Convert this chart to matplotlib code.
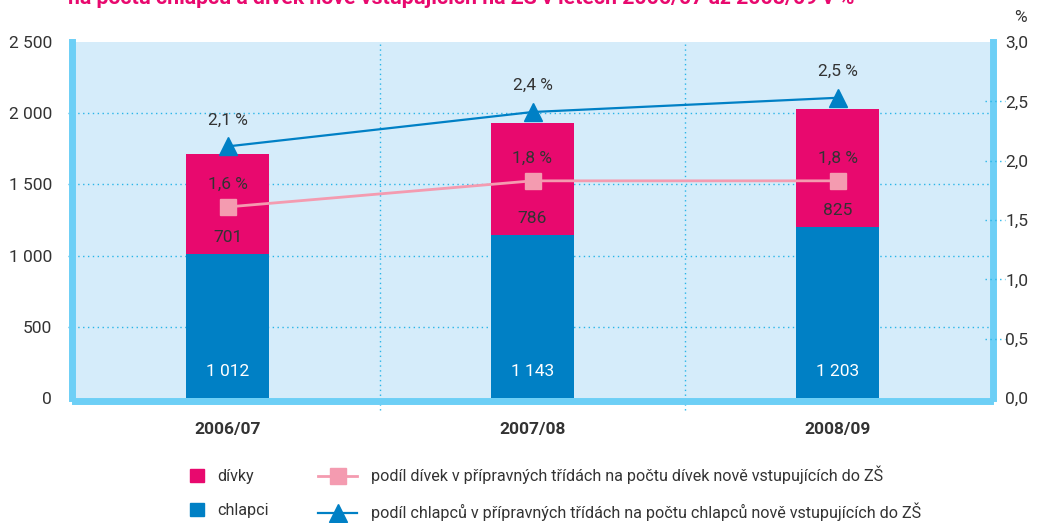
import matplotlib
matplotlib.use("Agg")
import matplotlib.pyplot as plt
from matplotlib.patches import Patch
from matplotlib.lines import Line2D

plt.rcParams['font.family'] = ['Roboto', 'DejaVu Sans']

# data
years = ['2006/07', '2007/08', '2008/09']
chlapci = [1012, 1143, 1203]
divky = [701, 786, 825]
podil_divek = [1.61, 1.83, 1.83]
podil_chlapcu = [2.12, 2.41, 2.53]
podil_divek_txt = ['1,6 %', '1,8 %', '1,8 %']
podil_chlapcu_txt = ['2,1 %', '2,4 %', '2,5 %']
left_ticks = [0, 500, 1000, 1500, 2000, 2500]
left_labels = ['0', '500', '1 000', '1 500', '2 000', '2 500']
right_ticks = [0, 0.5, 1.0, 1.5, 2.0, 2.5, 3.0]
right_labels = ['0,0', '0,5', '1,0', '1,5', '2,0', '2,5', '3,0']

pink = '#e8096e'
blue = '#0080c5'
light_pink = '#f49bb0'
border = '#6dcff6'
grid_c = '#29b5e8'
txt = '#333333'
fs = 12.5

fig = plt.figure(figsize=(10.38, 5.23), dpi=100)
ax = fig.add_axes([75 / 1038, 125 / 523, 915 / 1038, 356 / 523])
ax.set_facecolor('#d5ecfa')

x = list(range(len(years)))
ax.bar(x, chlapci, width=0.275, color=blue, zorder=2)
ax.bar(x, divky, width=0.275, bottom=chlapci, color=pink, zorder=2)

ax.set_xlim(-0.5, 2.5)
ax.set_ylim(0, 2500)

# dotted grid, poking out of the frame like little ticks
for y in left_ticks[1:-1]:
    ax.axhline(y, xmin=-0.008, xmax=1, color=grid_c, lw=1, ls=(0, (1, 2.5)), clip_on=False, zorder=1)
for xv in [0.5, 1.5]:
    ax.axvline(xv, ymin=-0.035, ymax=1, color=grid_c, lw=1, ls=(0, (1, 2.5)), clip_on=False, zorder=1)

for side in ['left', 'right', 'bottom']:
    ax.spines[side].set_color(border)
    ax.spines[side].set_linewidth(5)
    ax.spines[side].set_position(('outward', 2.5))
ax.spines['top'].set_visible(False)

ax.set_yticks(left_ticks)
ax.set_yticklabels(left_labels)
ax.set_xticks(x)
ax.set_xticklabels(years, fontweight='bold')
ax.tick_params(axis='y', length=0, pad=14, labelsize=fs, labelcolor=txt)
ax.tick_params(axis='x', length=0, pad=15, labelsize=fs, labelcolor=txt)

for i in x:
    ax.annotate(f'{chlapci[i]:,}'.replace(',', ' '), (i, 0), xytext=(0, 19), textcoords='offset points',
                ha='center', va='center', color='white', fontsize=fs)
    ax.annotate(str(divky[i]), (i, chlapci[i]), xytext=(0, 12), textcoords='offset points',
                ha='center', va='center', color=txt, fontsize=fs)

ax2 = ax.twinx()
ax2.set_ylim(0, 3.0)
for s in ax2.spines.values():
    s.set_visible(False)
ax2.set_yticks(right_ticks)
ax2.set_yticklabels(right_labels)
ax2.tick_params(axis='y', length=0, pad=11, labelsize=fs, labelcolor=txt)
for v in right_ticks[1:-1]:
    ax2.axhline(v, xmin=0.995, xmax=1.016, color=grid_c, lw=1, ls=(0, (1, 2.5)), clip_on=False)

ax2.plot(x, podil_divek, color=light_pink, lw=2, marker='s', ms=12, zorder=3)
ax2.plot(x, podil_chlapcu, color=blue, lw=1.6, marker='^', ms=13, zorder=3)
for i in x:
    ax2.annotate(podil_divek_txt[i], (i, podil_divek[i]), xytext=(0, 16), textcoords='offset points',
                 ha='center', va='center', color=txt, fontsize=fs)
    ax2.annotate(podil_chlapcu_txt[i], (i, podil_chlapcu[i]), xytext=(0, 19), textcoords='offset points',
                 ha='center', va='center', color=txt, fontsize=fs)

fig.text(1020 / 1038, 1 - 17 / 523, '%', ha='center', va='center', color=txt, fontsize=fs)
fig.text(68 / 1038, 1 - 4 / 523, 'na počtu chlapců a dívek nově vstupujících na ZŠ v letech 2006/07 až 2008/09 v %',
         ha='left', va='baseline', color=pink, fontsize=15.3, fontweight='bold')

# legend
bar_handles = [Patch(color=pink), Patch(color=blue)]
fig.legend(bar_handles, ['dívky', 'chlapci'], loc='center left', bbox_to_anchor=(190 / 1038, 1 - 493.5 / 523),
           frameon=False, borderpad=0, borderaxespad=0, fontsize=11.6, handlelength=0.85, handleheight=0.85,
           handletextpad=0.85, labelspacing=1.15, labelcolor=txt)
line_handles = [Line2D([], [], color=light_pink, lw=2, marker='s', ms=12),
                Line2D([], [], color=blue, lw=1.6, marker='^', ms=13)]
fig.legend(line_handles, ['podíl dívek v přípravných třídách na počtu dívek nově vstupujících do ZŠ',
                          'podíl chlapců v přípravných třídách na počtu chlapců nově vstupujících do ZŠ'],
           loc='center left', bbox_to_anchor=(318 / 1038, 1 - 493.5 / 523),
           frameon=False, borderpad=0, borderaxespad=0, fontsize=11.6, handlelength=2.45,
           handletextpad=0.85, labelspacing=1.15, labelcolor=txt)

fig.savefig('out.png', dpi=100)
